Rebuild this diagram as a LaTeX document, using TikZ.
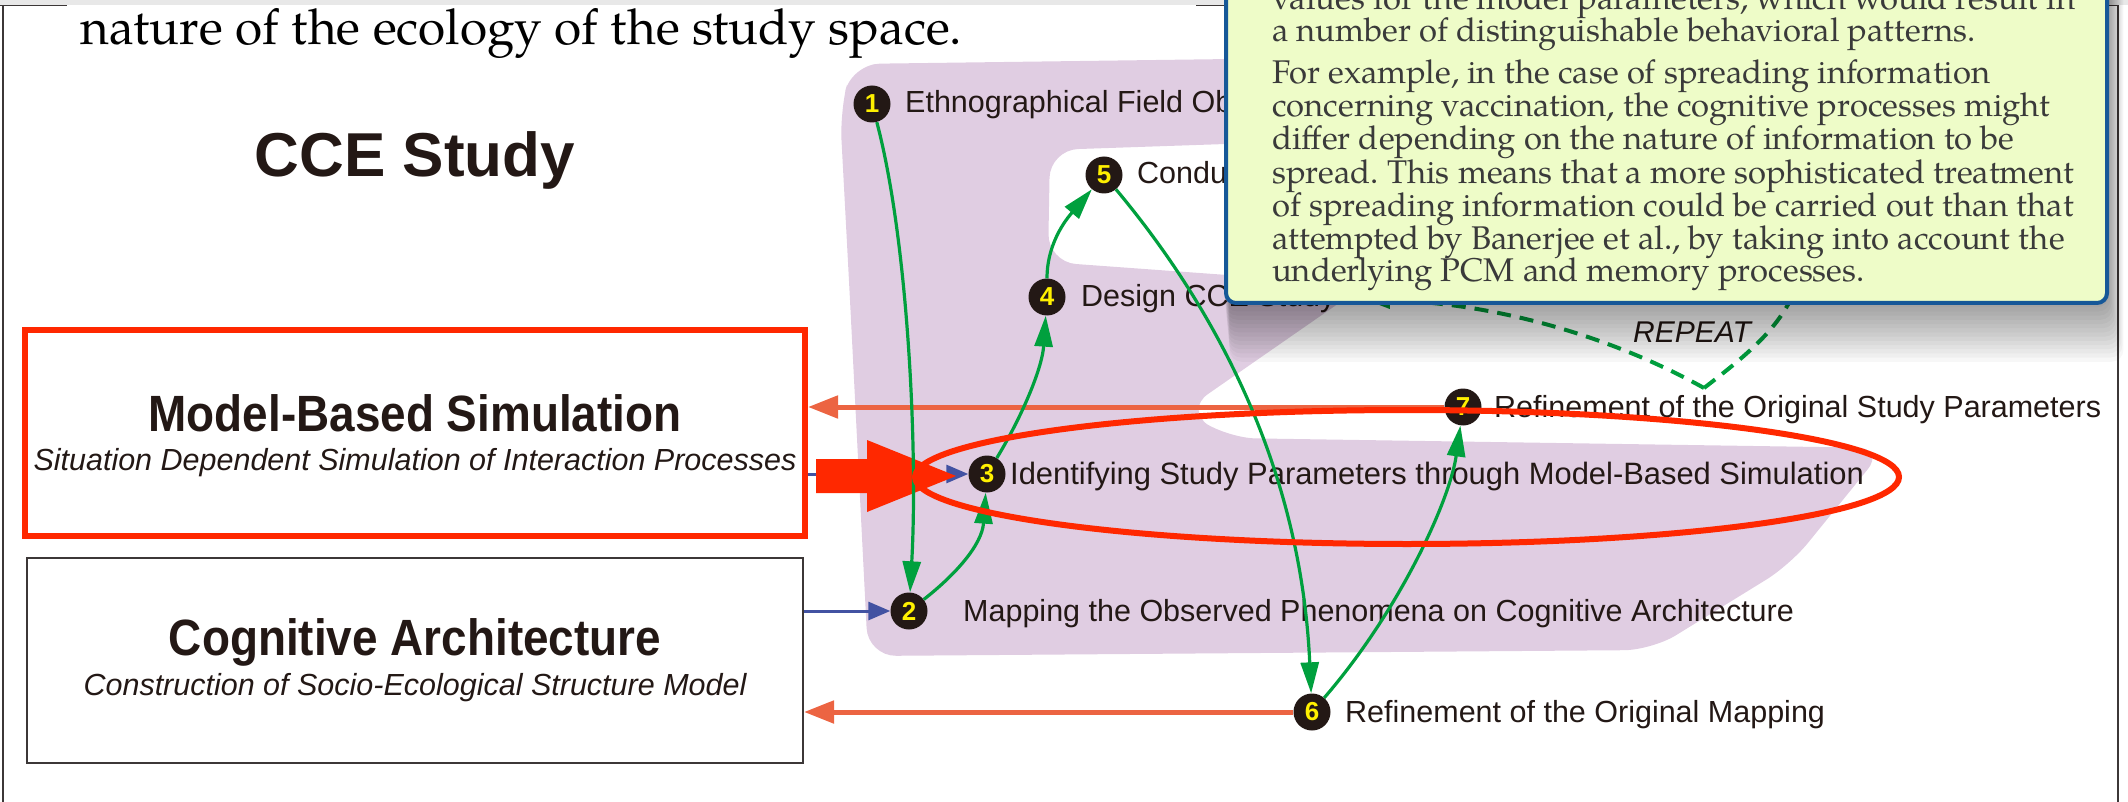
\documentclass[tikz,border=0pt]{standalone}
\usepackage{fontspec}
\setmainfont{Liberation Sans}
\newfontfamily\condfont{Liberation Sans}[FakeStretch=0.9]
\newfontfamily\bookfont{texgyrepagella-regular.otf}
\usetikzlibrary{arrows.meta,calc}
\frenchspacing

\definecolor{blob}{RGB}{224,205,226}
\definecolor{flowgreen}{RGB}{0,160,62}
\definecolor{dotblack}{RGB}{35,24,21}
\definecolor{numyellow}{RGB}{255,240,0}
\definecolor{inred}{RGB}{255,40,0}
\definecolor{backorange}{RGB}{236,100,66}
\definecolor{feedblue}{RGB}{66,82,162}
\definecolor{notefill}{RGB}{238,252,200}
\definecolor{noteline}{RGB}{22,88,152}
\definecolor{notetext}{RGB}{58,58,58}
\definecolor{viewergray}{RGB}{232,232,232}
\definecolor{framegray}{RGB}{60,55,55}

\tikzset{
  numdot/.style={circle,fill=dotblack,minimum size=37pt,inner sep=0pt,
    text=numyellow,font=\fontsize{26}{26}\selectfont\bfseries},
  lbl/.style={anchor=base west,inner sep=0pt,text=dotblack,
    font=\fontsize{30.5}{34}\selectfont},
  boxname/.style={anchor=base,inner sep=0pt,text=dotblack,
    font=\condfont\bfseries\fontsize{51}{51}\selectfont},
  boxsub/.style={anchor=base,inner sep=0pt,text=dotblack,
    font=\itshape\fontsize{30.5}{34}\selectfont},
  flow/.style={draw=flowgreen,line width=3.2pt,
    -{Triangle[length=31pt,width=18pt]}},
  again/.style={draw=flowgreen,line width=4pt,dash pattern=on 14pt off 9pt},
  feed/.style={draw=feedblue,line width=3pt,
    -{Triangle[length=22pt,width=18pt]}},
  fback/.style={draw=backorange,line width=5pt,
    -{Triangle[length=30pt,width=22pt]}},
  notetxt/.style={anchor=base west,inner sep=0pt,text=notetext,
    font=\bookfont\fontsize{32.8}{35}\selectfont},
}

\begin{document}
\begin{tikzpicture}[x=1pt,y=-1pt]
\useasboundingbox (0,0) rectangle (2128,802);
\clip (0,0) rectangle (2128,802);

% page
\fill[viewergray] (0,0) rectangle (2128,5);
\draw[framegray,line width=1.5pt] (3,5) -- (3,802) (2118,5) -- (2118,802);
\draw[framegray,line width=1.5pt] (0,5.5) -- (67,5.5) (1196,5.5) -- (1226,5.5)
  (2106,5.5) -- (2118,5.5);
\node[anchor=base west,inner sep=0pt,font=\bookfont\fontsize{49.5}{50}\selectfont]
  (lead) at (80,45) {nature of the ecology of the study space.};

% study area
\fill[blob,rounded corners=28pt] (850,300) -- (840,112) -- (852,64) -- (1460,56)
  -- (1460,136) -- (1050,150) -- (1048,262) -- (1365,285) -- (1185,410)
  -- (1228,438) -- (1885,448) -- (1790,565) -- (1652,650) -- (868,656) -- cycle;

\node[anchor=base,inner sep=0pt,text=dotblack,
  font=\bfseries\fontsize{62}{62}\selectfont] (cce) at (415,177) {CCE Study};

% boxes
\node[draw=inred,line width=6pt,minimum width=780pt,minimum height=206pt]
  (mbs) at (415,433) {};
\node[boxname] (mbsname) at (415,431) {Model-Based Simulation};
\node[boxsub] (mbssub) at (415,470)
  {Situation Dependent Simulation of Interaction Processes};
\node[draw=framegray,line width=2pt,minimum width=776pt,minimum height=205pt]
  (cog) at (415,660.5) {};
\node[boxname] (cogname) at (415,655) {Cognitive Architecture};
\node[boxsub] (cogsub) at (415,695)
  {Construction of Socio-Ecological Structure Model};

% steps
\node[numdot] (n1) at (872,104) {1};
\node[numdot] (n2) at (909,611) {2};
\node[numdot] (n3) at (987,474) {3};
\node[numdot] (n4) at (1047,297) {4};
\node[numdot] (n5) at (1104,175) {5};
\node[numdot] (n6) at (1312,712) {6};
\node[numdot] (n7) at (1463,407) {7};
\node[lbl] (l1) at (905,113) {Ethnographical Field Observation};
\node[lbl] (l2) at (963,621) {Mapping the Observed Phenomena on Cognitive Architecture};
\node[lbl,font=\fontsize{30.9}{34}\selectfont] (l3) at (1010,484)
  {Identifying Study Parameters through Model-Based Simulation};
\node[lbl] (l4) at (1081,307) {Design CCE Study};
\node[lbl] (l5) at (1137,184) {Conduct CCE Study};
\node[lbl] (l6) at (1345,722) {Refinement of the Original Mapping};
\node[lbl] (l7) at (1494,417) {Refinement of the Original Study Parameters};

% links
\draw[fback] (n7) -- (n7 -| mbs.east);
\draw[fback] (n6) -- (n6 -| cog.east);
\draw[feed] (cog.east |- n2) -- (n2);
\draw[feed] (mbs.east |- n3) -- (n3);
\fill[inred] (816,459) -- (867,459) -- (867,440) -- (956,476) -- (867,512)
  -- (867,493) -- (816,493) -- cycle;

\draw[flow] (n1) .. controls (908,240) and (918,450) .. (n2);
\draw[flow] (n2) .. controls (955,575) and (982,545) .. (n3);
\draw[flow] (n3) .. controls (1020,420) and (1042,370) .. (n4);
\draw[flow] (n4) .. controls (1047,240) and (1070,215) .. (n5);
\draw[flow] (n5) .. controls (1200,290) and (1300,450) .. (n6);
\draw[flow] (n6) .. controls (1400,610) and (1450,500) .. (n7);

\coordinate (rep) at (1704,388);
\coordinate (rep4) at (1366,300);
\coordinate (rep5) at (1805,255);
\draw[again,-{Triangle[length=24pt,width=16pt]}] (rep)
  .. controls (1600,330) and (1480,302) .. (rep4);
\draw[again] (rep) .. controls (1760,345) and (1795,315) .. (rep5);
\node[anchor=base west,inner sep=0pt,text=dotblack,
  font=\itshape\fontsize{30}{30}\selectfont] (repeat) at (1633,342) {REPEAT};

\draw[inred,line width=6pt] (1407,477) ellipse [x radius=492,y radius=67];

% note
\foreach \k in {1,...,14}
  \fill[black,opacity=0.032,rounded corners=12pt]
    (1224+\k*0.4,-40) rectangle (2108+\k*1.1,303+\k*4.2);
\draw[fill=notefill,draw=noteline,line width=4pt,rounded corners=10pt]
  (1226,-40) rectangle (2107,303);
\foreach \ln/\tx in {10/{values for the model parameters, which would result in},
    42/{a number of distinguishable behavioral patterns.},
    84/{For example, in the case of spreading information},
    117/{concerning vaccination, the cognitive processes might},
    150/{differ depending on the nature of information to be},
    184/{spread. This means that a more sophisticated treatment},
    217/{of spreading information could be carried out than that},
    250/{attempted by Banerjee et al., by taking into account the},
    282/{underlying PCM and memory processes.}}
  \node[notetxt] at (1272,\ln) {\tx};
\end{tikzpicture}
\end{document}
